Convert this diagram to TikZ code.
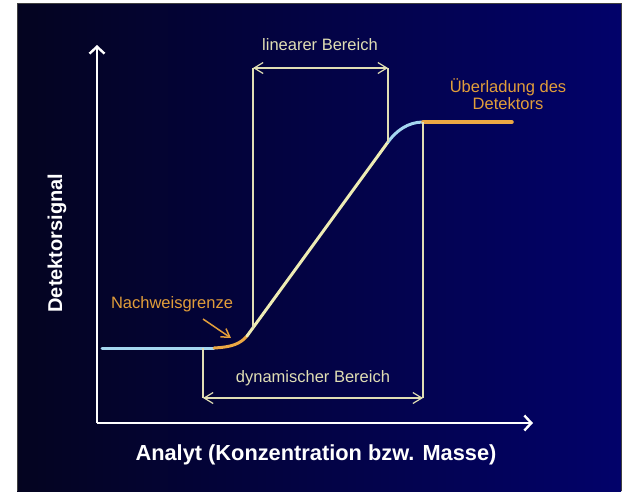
\documentclass[tikz,border=0pt]{standalone}
\usepackage{fontspec}
\setmainfont{Liberation Sans}
\usetikzlibrary{arrows.meta}
\definecolor{bgleft}{RGB}{4,4,32}
\definecolor{bgright}{RGB}{2,2,106}
\definecolor{curveblue}{RGB}{165,215,240}
\definecolor{curveorange}{RGB}{236,168,68}
\definecolor{curveyellow}{RGB}{238,236,180}
\definecolor{bracketline}{RGB}{224,222,180}
\definecolor{labelorange}{RGB}{226,158,58}

\begin{document}
\begin{tikzpicture}[x=1pt, y=-1pt,
    every node/.style={align=center, font=\fontsize{16.5}{17}\selectfont},
    axis/.style={white, line width=2.4pt, -{Straight Barb[length=7pt, width=15pt, line width=2.4pt]}},
    curve/.style={line width=3pt, line cap=round},
    bracket/.style={bracketline, line width=1.2pt},
    span/.style={bracket, {Straight Barb[length=9pt, width=11pt, line width=1.2pt]}-{Straight Barb[length=9pt, width=11pt, line width=1.2pt]}}]
    \useasboundingbox (0,0) rectangle (627,491);
    % Background panel
    \fill[white] (0,0) rectangle (627,491);
    \shade[left color=bgleft, right color=bgright] (17,3) rectangle (621,491);
    \draw[black!75, line width=1pt] (17,491) -- (17,3) -- (621,3) -- (621,491);

    % Axes
    \coordinate (origin) at (97,423);
    \coordinate (ytop) at (97,45);
    \coordinate (xend) at (533,423);
    \draw[axis] (origin) -- (ytop);
    \draw[axis] (origin) -- (xend);

    % Calibration curve
    \coordinate (base0) at (102,348);
    \coordinate (lod0) at (214,348);
    \coordinate (lin0) at (247,336);
    \coordinate (lin1) at (388,142);
    \coordinate (sat0) at (423,122);
    \coordinate (sat1) at (512,122);
    \draw[curve, curveblue] (base0) -- (lod0);
    \draw[curve, curveorange] (lod0) .. controls (232,347) and (240,344) .. (lin0);
    \draw[curve, curveyellow] (lin0) -- (lin1);
    \draw[curve, curveblue] (lin1) .. controls (396,131) and (408,122) .. (sat0);
    \draw[curve, curveorange, line width=3.5pt] (sat0) -- (sat1);

    % Linear range
    \coordinate (linL) at (253,68);
    \coordinate (linR) at (388,68);
    \coordinate (linLfoot) at (253,328);
    \draw[bracket] (linL) -- (linLfoot);
    \draw[bracket] (linR) -- (lin1);
    \draw[span] (linL) -- (linR);
    \node[text=bracketline] (linlabel) at (320,45) {linearer Bereich};

    % Dynamic range
    \coordinate (dynL) at (203,398);
    \coordinate (dynR) at (423,398);
    \coordinate (dynLtop) at (203,348);
    \draw[bracket] (dynLtop) -- (dynL);
    \draw[bracket] (sat0) -- (dynR);
    \draw[span] (dynL) -- (dynR);
    \node[text=bracketline] (dynlabel) at (313,378) {dynamischer Bereich};

    % Detection limit and overload
    \node[text=labelorange] (lodlabel) at (172,304) {Nachweisgrenze};
    \coordinate (lodtail) at (203,319);
    \coordinate (lodtip) at (231,338);
    \draw[labelorange, line width=1.5pt, -{Straight Barb[length=8pt, width=10pt, line width=1.5pt]}] (lodtail) -- (lodtip);
    \node[text=labelorange] (ovllabel) at (508,94) {Überladung des\\Detektors};

    % Axis labels
    \node[white, font=\bfseries\fontsize{20}{24}\selectfont, rotate=90] (ylabel) at (57,243) {Detektorsignal};
    \node[white, font=\bfseries\fontsize{21.8}{25}\selectfont] (xlabel) at (316,455) {Analyt (Konzentration bzw. Masse)};
\end{tikzpicture}
\end{document}
